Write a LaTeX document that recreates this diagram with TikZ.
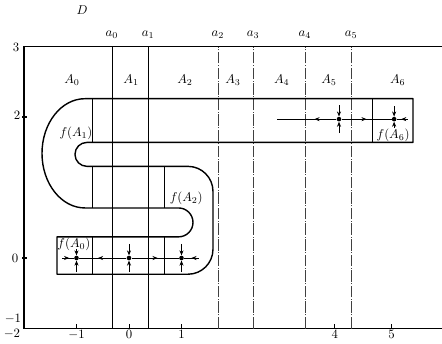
\documentclass[tikz,border=0pt]{standalone}
\usepackage{amsmath}
\usepackage{tikz}
\usetikzlibrary{arrows.meta, decorations.markings}

\begin{document}
\begin{tikzpicture}[
    x=1.444cm, y=1.939cm,
    every node/.style={font=\normalsize, inner sep=1pt},
    frame/.style={line width=0.9pt},
    shoe/.style={line width=1.1pt, line join=round},
    cut/.style={line width=0.6pt},
    level/.style={line width=0.4pt, black!75, dash pattern=on 9pt off 1.2pt on 0.8pt off 1.2pt},
    dot/.style={circle, fill, inner sep=0pt, minimum size=3.6pt},
    arr/.style={-{Stealth[length=4pt, width=3.2pt]}, line width=0.6pt},
    flow/.style={line width=0.6pt, postaction={decorate},
        decoration={markings, mark=at position #1 with {\arrow{Stealth[length=4pt, width=3.2pt]}}}}
]
\useasboundingbox (-2.457,-1.206) rectangle (5.962,3.660);

% Frame and ticks
\draw[frame] (5.962,3) -- (-2,3) -- (-2,-1) -- (5.962,-1);
\foreach \y in {2,0} \draw[frame] (-2.03,\y) -- (-1.94,\y);
\foreach \x in {-1,0,1,3.92,5} \draw[cut] (\x,-1) -- (\x,-0.94);
\node (yl3)  at (-2.15,2.99)  {$3$};
\node (yl2)  at (-2.13,2.02)  {$2$};
\node (yl0)  at (-2.17,0)     {$0$};
\node (ylm1) at (-2.21,-0.86) {$-1$};
\node (xlm2) at (-2.23,-1.07) {$-2$};
\node (xlm1) at (-1,-1.09)    {$-1$};
\node (xl0)  at (0,-1.09)     {$0$};
\node (xl1)  at (1,-1.09)     {$1$};
\node (xl4)  at (3.92,-1.09)  {$4$};
\node (xl5)  at (5,-1.09)     {$5$};

% Cuts a_0 ... a_5
\draw[cut]   (-0.324,-1) -- (-0.324,3);
\draw[cut]   (0.362,-1)  -- (0.362,3);
\foreach \x in {1.695,2.362,3.352,4.229} \draw[level] (\x,-1) -- (\x,3);
\foreach \x/\i in {-0.324/0,0.362/1,1.695/2,2.362/3,3.352/4,4.229/5}
    \node (a\i) at (\x,3.17) {$a_{\i}$};
\node (D) at (-0.895,3.52) {$D$};

% Sets A_0 ... A_6
\foreach \x/\i in {-1.086/0,0.04/1,1.067/2,1.98/3,2.91/4,3.81/5,5.12/6}
    \node (A\i) at (\x,2.525) {$A_{\i}$};

% Horseshoe
\draw[shoe] (-1.371,0.30) -- (0.943,0.30)
    arc[start angle=-90, end angle=90, x radius=0.276, y radius=0.205]
    -- (-0.838,0.71)
    arc[start angle=270, end angle=90, x radius=0.819, y radius=0.775]
    -- (5.41,2.26) -- (5.41,1.64) -- (-0.8,1.64)
    arc[start angle=90, end angle=270, x radius=0.229, y radius=0.17]
    -- (1.124,1.30)
    arc[start angle=90, end angle=0, x radius=0.476, y radius=0.355]
    -- (1.6,0.125)
    arc[start angle=0, end angle=-90, x radius=0.476, y radius=0.355]
    -- (-1.371,-0.23) -- cycle;
\draw[cut] (-0.705,1.64) -- (-0.705,2.26);
\draw[cut] (-0.705,0.71) -- (-0.705,1.30);
\draw[cut] (-0.705,-0.23) -- (-0.705,0.30);
\draw[cut] (0.667,0.71) -- (0.667,1.30);
\draw[cut] (0.667,-0.23) -- (0.667,0.30);
\draw[cut] (4.629,1.64) -- (4.629,2.26);

\node (fA1) at (-1.01,1.77) {$f(A_1)$};
\node (fA2) at (1.09,0.85)  {$f(A_2)$};
\node (fA0) at (-1.05,0.195) {$f(A_0)$};
\node (fA6) at (5.03,1.74)  {$f(A_6)$};

% Fixed points
\node[dot] (pm1) at (-1,0)      {};
\node[dot] (p0)  at (0,0)       {};
\node[dot] (p1)  at (1,0)       {};
\node[dot] (p4)  at (4,1.97)    {};
\node[dot] (p5)  at (5.05,1.97) {};
\coordinate (l0) at (-1.276,0);
\coordinate (r0) at (1.33,0);
\coordinate (l2) at (2.82,1.97);
\coordinate (r2) at (5.314,1.97);

\draw[flow=0.6]  (l0) -- (pm1);
\draw[flow=0.6]  (p0) -- (pm1);
\draw[flow=0.55] (p0) -- (p1);
\draw[flow=0.5]  (r0) -- (p1);
\draw[flow=0.37] (p4) -- (l2);
\draw[flow=0.5]  (p4) -- (p5);
\draw[flow=0.6]  (r2) -- (p5);
\foreach \p in {p0,p1,p4} {
    \draw[arr] (\p) ++(0,0.2) -- (\p);
    \draw[arr] (\p) ++(0,-0.2) -- (\p);
}
\draw[arr] (pm1) ++(0,0.13) -- (pm1);
\draw[arr] (pm1) ++(0,-0.2) -- (pm1);
\draw[arr] (p5) ++(0,0.18) -- (p5);
\draw[arr] (p5) ++(0,-0.12) -- (p5);
\end{tikzpicture}
\end{document}
